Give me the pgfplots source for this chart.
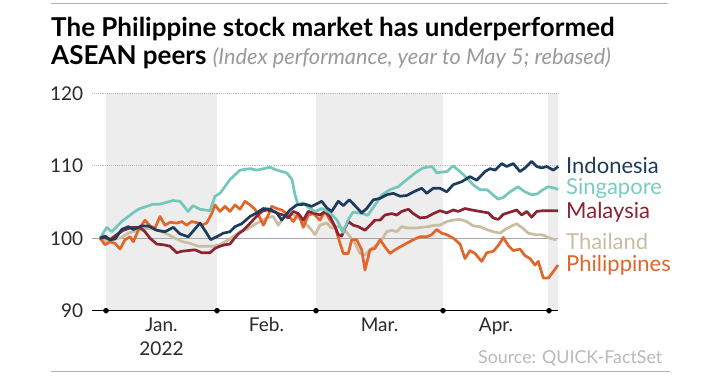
\documentclass[border=0pt]{standalone}
\usepackage{pgfplots}
\pgfplotsset{compat=1.18}
\usepackage{fontspec}
\setmainfont{Lato}
\definecolor{cIndo}{HTML}{1E3B5C}
\definecolor{cSing}{HTML}{74C7BB}
\definecolor{cSingT}{HTML}{7CCBC2}
\definecolor{cMala}{HTML}{8C2331}
\definecolor{cThai}{HTML}{C9BDA2}
\definecolor{cPhil}{HTML}{E2662A}
\definecolor{bandgray}{HTML}{EDEDED}
\definecolor{txt}{HTML}{2A2A2A}
\definecolor{subt}{HTML}{9A9A9A}
\begin{document}
\begin{tikzpicture}[x=1pt,y=1pt]
\path[fill=white] (0,0) rectangle (718,376);
\draw[gray!60, line width=0.8pt] (51,373) -- (668,373);
\draw[gray!60, line width=0.8pt] (51,4.3) -- (670,4.3);
\node[anchor=base west, inner sep=0pt, text=black] at (51,339.3) {\fontsize{26}{30}\selectfont\bfseries The Philippine stock market has underperformed};
\node[anchor=base west, inner sep=0pt, text=black] at (51,311.7) {\fontsize{26}{30}\selectfont\bfseries ASEAN peers \fontsize{21.8}{24}\selectfont\mdseries\itshape\color{subt}(Index performance, year to May 5; rebased)};
\begin{axis}[
 at={(92pt,65.3pt)}, anchor=south west,
 scale only axis, width=466pt, height=217.4pt,
 xmin=-8, xmax=458, ymin=90, ymax=120,
 clip=false,
 axis line style={draw=none},
 tick style={draw=none},
 ytick={90,100,110,120},
 yticklabel style={anchor=east, inner sep=0pt, xshift=-8.7pt, text=txt, font=\fontsize{19}{19}\selectfont},
 xtick={61.5,166.5,279.5,396},
 xticklabels={{Jan.\\2022},{Feb.},{Mar.},{Apr.}},
 xticklabel style={align=center, anchor=north, inner sep=0pt, yshift=-7pt, text=txt, font=\fontsize{19}{24}\selectfont},
 /pgf/number format/assume math mode=true,
 every axis plot/.append style={line width=2.7pt, line join=round, mark=none},
]
\fill[bandgray] (axis cs:6,90) rectangle (axis cs:117,120);
\fill[bandgray] (axis cs:216,90) rectangle (axis cs:343,120);
\fill[bandgray] (axis cs:448,90) rectangle (axis cs:458,120);
\draw[gray!55, densely dotted, line width=0.9pt] (axis cs:-8,120) -- (axis cs:458,120);
\draw[gray!55, densely dotted, line width=0.9pt] (axis cs:-8,110) -- (axis cs:458,110);
\draw[gray!70, line width=0.8pt] (axis cs:-8,100) -- (axis cs:458,100);
\draw[black, line width=0.8pt] (axis cs:-8,90) -- (axis cs:458,90);
\addplot[only marks, mark=*, mark size=1.6pt, black, forget plot] coordinates {(6,90) (117,90) (216,90) (343,90) (449,90)};
% Thailand
\addplot[cThai] coordinates {
(0,100) (8,99.5) (15,99.9) (21.7,100.1) (28,100.7) (38.3,101.1) (48.3,101.4) (58.3,101.1) (68.3,100.5) (75,100) (83.3,99.5) (90,99.3) (98.3,98.9) (105,98.9) (113.3,98.9) (120,99.1) (130,99.9) (140,100.9) (146.7,101.2) (153.3,101.8) (160,102.3) (166.7,102.8) (173.3,103) (178.3,101.8) (183.3,102.8) (190,103.4) (196.7,103) (203.3,102.3) (210,101.4) (215,100.5) (220,101.8) (226.7,102.1) (231.7,101.4) (236.7,101.6) (241.7,101.5) (248,100.6) (255,99.3) (260,97.9) (265,97.7) (271.7,98.6) (276.7,99.1) (281.7,99.8) (286.7,100.9) (291.7,101.1) (296.7,100.9) (301.7,101.6) (308.3,101.4) (315,101.4) (321.7,101.5) (328.3,101.6) (335,101.8) (340,101.8) (346.7,102.3) (353.3,102.5) (360,102.6) (366.7,102.3) (373.3,101.7) (380,101.6) (386.7,101.2) (393.3,100.9) (400,100.7) (405,101.2) (411.7,101.7) (416.7,102) (421.7,101.5) (428.3,100.7) (435,100.5) (441.7,100.5) (446.7,100.2) (451.7,99.9) (456.7,99.8)};
% Philippines
\addplot[cPhil] coordinates {
(0,100) (5,99.1) (10,99.5) (15,99.3) (20,98.5) (25,99.8) (30,100.2) (33.3,99.5) (38.3,101.1) (45,102.5) (50,101.7) (55,101.4) (60,103) (65,101.8) (70,102.2) (76.7,102.1) (81.7,102.3) (86.7,101.8) (91.7,102.3) (98.3,102.1) (101.7,101.8) (106.7,102.1) (111.7,103.4) (115,104.6) (120,103.7) (125,104.4) (130,103.7) (135,104.6) (140,104) (145,105.1) (150,104.6) (155,104) (160,102.8) (163.3,101.8) (168.3,103.2) (171.7,104.4) (176.7,104.1) (181.7,103.9) (186.7,103.4) (193.3,102.3) (198.3,103.4) (203.3,101.5) (208.3,103.2) (213.3,103.4) (220,102.5) (225,103.7) (230,102.5) (235,101.6) (240,99.3) (243.3,97.9) (248.3,97.9) (251.7,99.8) (256.7,99.8) (261.7,98.4) (265,95.6) (270,98.4) (275,98.6) (280,99.8) (285,98.8) (290,97.9) (295,98.4) (300,98.8) (306.7,99.3) (313.3,99.8) (320,100.2) (326.7,100.2) (331.7,100.5) (336.7,101.2) (341.7,100.7) (346.7,100.5) (353.3,100) (360,99.2) (365,97.2) (370,98.3) (375,97.9) (381.7,96.8) (386.7,98) (393.3,98.2) (398.3,99) (403.3,100.1) (408.3,99) (413.3,98.3) (420,98.5) (425,97.6) (430,97.2) (435,96.3) (438.3,96.8) (443.3,94.5) (448.3,94.5) (453.3,95.4) (458,96.3)};
% Malaysia
\addplot[cMala] coordinates {
(0,100) (5,100.1) (10,99.8) (16.7,100.5) (23.3,101.1) (31.7,101.5) (40,101.5) (45,100.9) (50,100) (56.7,99.2) (63.3,99.1) (70,98.9) (76.7,98) (81.7,98.2) (88.3,98.3) (95,98.4) (101.7,98) (110,98) (115,98.6) (120,98.9) (125,99.1) (130,99.2) (133.3,99.8) (138.3,100.6) (143.3,101.1) (148.3,101.8) (155,102.8) (161.7,103.7) (166.7,103.9) (173.3,103.7) (178.3,103.4) (183.3,103.2) (188.3,102.8) (193.3,103.7) (198.3,103.4) (203.3,102.5) (208.3,103.7) (213.3,103.5) (220,103.2) (225,103.7) (230,103) (235,101.6) (238.3,100.5) (241.7,100.3) (245,101.4) (248.3,102.3) (253.3,101.8) (258.3,101.6) (265,101.1) (270,101.8) (275,102.5) (280,102.5) (285,103.2) (291.7,103.4) (296.7,103.2) (301.7,103.7) (308.3,104) (313.3,103.4) (320,102.8) (326.7,102.9) (333.3,103.4) (340,103.8) (346.7,103.5) (353.3,103.9) (358.3,103.7) (365,104.1) (371.7,103.9) (380,103.7) (388.3,103.5) (393.3,102.8) (398.3,102.6) (403.3,103.3) (410,103.6) (416.7,103.9) (421.7,103.2) (426.7,103.7) (431.7,102.9) (436.7,103.7) (443.3,103.8) (453.3,103.8) (458,103.8)};
% Singapore
\addplot[cSing] coordinates {
(0,100) (6.7,101.5) (11.7,100.9) (21.7,102.3) (35,103.7) (40,104.1) (53,104.7) (60,104.7) (73,105.2) (80,105.1) (88,103.7) (93,104.5) (100,104.0) (110,103.8) (115,105.8) (120,106.2) (130,108.1) (140,109.4) (150,109.6) (157,109.4) (170,109.8) (177,109.4) (187,109.0) (192,108.1) (195,106.0) (198,104.6) (203,104.9) (207,104.4) (215,103.7) (222,104.1) (230,103.5) (237,102.5) (243,100.8) (248,102.5) (253,103.6) (262,103.4) (268,103.2) (275,104.6) (282,106) (290,106.7) (298,107.1) (307,108.1) (315,109) (323,109.7) (332,109.9) (337,109) (340,109.1) (347,109.2) (353,110) (360,109.2) (367,108.3) (373,107.4) (380,106.7) (387,106.7) (393,106) (398,105.4) (403,105.6) (410,106.4) (418,107.1) (425,106.4) (432,106) (437,106.1) (443,106.7) (448,107.1) (455,106.9) (458,106.7)};
% Indonesia
\addplot[cIndo] coordinates {
(0,100) (5,100.3) (10,99.8) (15,99.9) (21.7,101.2) (28.3,101.6) (33.3,101.2) (41.7,101.7) (48.3,101.7) (56.7,101.1) (65,100.9) (73.3,101.5) (80,100.6) (88.3,100.2) (100,102.1) (106.7,100.7) (110.7,99.8) (116.7,100.2) (123.3,100.7) (130,100.9) (135,101.6) (141.7,102) (150,103) (156.7,103.5) (163.3,104.1) (170,104) (176.7,103.5) (181.7,102.5) (190,103.9) (196.7,104.6) (205,104.7) (211.7,104.4) (221.7,105.1) (226.7,104.2) (231.7,103.7) (238.3,105.1) (243.3,104.5) (249.3,105.3) (255,104.5) (261.7,103.5) (266.7,104.1) (273.3,105.3) (280,105.5) (286.7,106) (293.3,106.2) (300,105.8) (306.7,105.9) (315,106.5) (321.7,106.9) (326.7,106.2) (333.3,106.9) (340,106.9) (346.7,106.4) (353.3,107.4) (361.7,107.8) (370,108.5) (376.7,108) (385,109.2) (390,109.6) (395,109.4) (401.7,110.3) (406.7,109.9) (413.3,110.3) (420,109.2) (425,109.7) (431.7,110.6) (436.7,109.9) (441.7,109.7) (446.7,109.9) (453.3,109.4) (458.3,109.9)};
\end{axis}
\begin{scope}[every node/.style={anchor=west, inner sep=0pt, font=\fontsize{22}{22}\selectfont}]
\node[text=cIndo] at (566,211) {Indonesia};
\node[text=cSingT] at (566,188) {Singapore};
\node[text=cMala] at (566,164) {Malaysia};
\node[text=cThai] at (566,135) {Thailand};
\node[text=cPhil] at (566,111) {Philippines};
\end{scope}
\node[anchor=base west, inner sep=0pt, text=gray!55, font=\fontsize{17.8}{18}\selectfont] at (478,13) {Source: QUICK-FactSet};
\end{tikzpicture}
\end{document}
